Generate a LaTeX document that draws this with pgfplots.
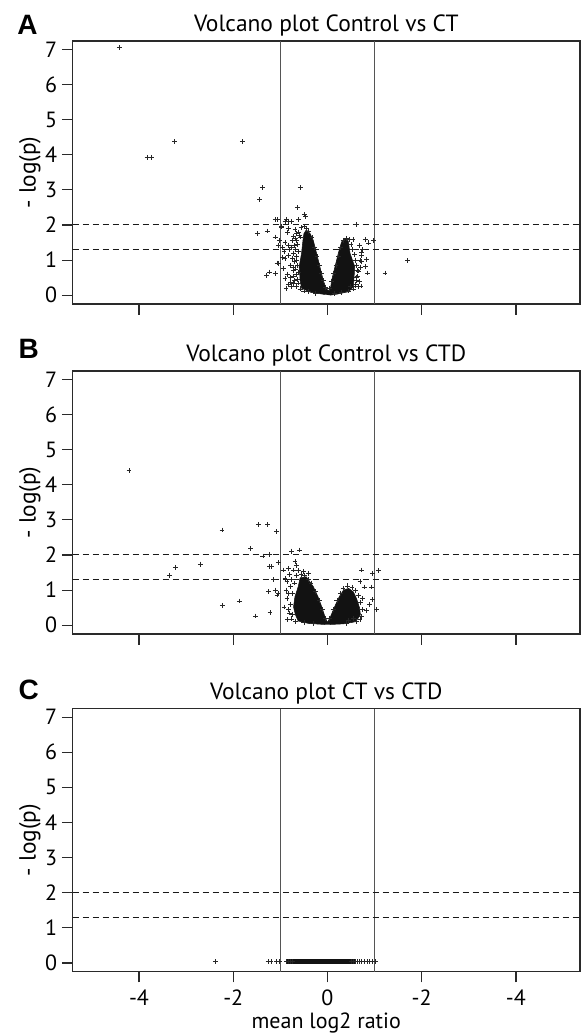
\documentclass[border=0pt]{standalone}
\usepackage{fontspec}
\setmainfont{PT Sans}
\newfontfamily\letterfont{Liberation Sans}
\usepackage{pgfplots}
\pgfplotsset{compat=1.18}
\definecolor{axisgray}{HTML}{2A2A2A}
\definecolor{cutgray}{HTML}{555555}

\pgfplotsset{
  volcano/.style={
    scale only axis, width=380.6pt, height=197.25pt,
    xmin=-5.41, xmax=5.36, ymin=-0.25, ymax=7.24,
    axis line style={axisgray, line width=0.9pt},
    xtick={-4,-2,0,2,4}, ytick={0,1,...,7},
    tick pos=left, tick align=outside,
    major tick length=8pt,
    tick style={axisgray, line width=0.9pt},
    /pgf/number format/assume math mode=true,
    xticklabel style={yshift=-2pt},
    title style={at={(0.5,1)}, anchor=base, yshift=0.75pt,
      font=\fontsize{17.6}{20}\selectfont},
    ylabel={- log(p)},
    ylabel style={at={(rel axis cs:-0.0729,0.5)}, anchor=base,
      font=\fontsize{17.5}{20}\selectfont},
  },
  pts/.style={only marks, mark=+, mark size=1.8pt, black!85,
    mark options={line width=0.55pt}},
  core/.style={fill=black!93, draw=black!93, line width=0.4pt, mark=none},
  cut/.style={cutgray, line width=0.95pt, mark=none},
  thr/.style={black!90, line width=0.75pt, dash pattern=on 5pt off 2.5pt, mark=none},
}

\begin{document}
\begin{tikzpicture}[font=\fontsize{16.5}{19}\selectfont]
\path[use as bounding box] (0,0) rectangle (436.5pt,774.75pt);

% ---- A: Control vs CT
\begin{axis}[volcano, at={(54.4pt,546.75pt)}, anchor=south west,
  title={Volcano plot Control vs CT}, xticklabels={}]
\addplot[cut] coordinates {(-1,-0.25) (-1,7.24)};
\addplot[cut] coordinates {(1,-0.25) (1,7.24)};
\addplot[thr] coordinates {(-5.41,2) (5.36,2)};
\addplot[thr] coordinates {(-5.41,1.3) (5.36,1.3)};
\addplot[core] coordinates {(-0.05,0.02) (-0.35,0.08) (-0.55,0.2) (-0.58,0.43)
  (-0.6,0.81) (-0.55,1.19) (-0.52,1.56) (-0.5,1.75) (-0.45,1.86) (-0.37,1.76)
  (-0.3,1.56) (-0.23,1.19) (-0.16,0.81) (-0.09,0.43) (-0.03,0.2) (0.02,0.12)
  (0.07,0.24) (0.09,0.43) (0.16,0.81) (0.23,1.19) (0.3,1.52) (0.37,1.6)
  (0.44,1.55) (0.48,1.19) (0.58,0.81) (0.56,0.43) (0.55,0.24) (0.45,0.1)
  (0.2,0.03) (0.05,0.0)};
\addplot[pts] table {
x y
-4.42 7.05
-3.83 3.93
-3.74 3.93
-3.24 4.37
-1.81 4.37
-1.38 3.07
-1.44 2.72
-0.58 3.07
-0.64 2.50
-0.49 2.30
-0.47 2.24
-0.61 2.15
-1.11 2.15
-1.06 2.15
-0.90 2.10
-0.76 2.10
-0.82 2.11
-0.88 2.16
-0.98 1.97
-0.97 1.94
-0.83 1.89
-0.69 1.87
-1.27 1.83
-1.49 1.76
-1.11 1.66
-1.01 1.56
-0.90 1.51
-0.83 1.42
-0.76 1.37
-1.04 1.42
-0.96 1.35
-0.65 1.75
-0.58 1.66
-0.90 1.04
-0.83 1.14
-0.72 1.18
-0.95 1.07
-1.07 0.92
-1.04 0.90
-0.94 0.76
-0.79 0.85
-0.65 0.99
-1.29 0.57
-1.23 0.66
-1.11 0.62
-0.90 0.47
-0.79 0.38
-0.72 0.33
-0.65 0.24
-0.76 0.24
-0.72 0.71
-0.62 0.66
-0.85 0.60
-0.80 1.30
-0.75 1.55
-0.72 1.68
-0.78 0.50
-0.85 1.78
-0.92 1.25
-0.70 0.95
-0.74 1.05
-0.70 1.42
-0.68 1.62
-0.73 0.80
-0.70 0.42
-0.82 0.30
-0.88 0.20
-0.56 1.92
-0.50 1.95
-0.45 1.90
-0.40 1.82
-0.62 1.80
-0.60 1.70
-0.66 1.55
-0.63 1.45
-0.68 1.30
-0.62 1.25
-0.66 1.10
-0.64 0.85
-0.68 0.75
-0.66 0.60
-0.72 0.55
-0.64 0.45
-0.62 0.35
-0.58 0.18
-0.50 0.12
-0.40 0.10
-0.25 0.06
-0.33 1.65
-0.27 1.35
-0.22 1.10
-0.17 0.85
-0.12 0.62
-0.08 0.42
-0.04 0.22
0.04 0.20
0.08 0.40
0.13 0.62
0.18 0.85
0.24 1.12
0.28 1.35
0.33 1.55
0.40 1.62
0.46 1.58
0.50 1.45
0.52 1.30
0.58 1.15
0.60 1.00
0.62 0.85
0.64 0.70
0.63 0.55
0.62 0.42
0.60 0.30
0.55 0.18
0.45 0.12
0.30 0.07
0.15 0.04
0.61 2.02
0.54 1.58
0.80 1.58
0.87 1.49
0.97 1.56
0.73 1.23
0.74 1.30
0.73 1.14
0.69 0.99
0.83 1.02
0.73 0.95
0.80 0.82
0.85 0.63
0.66 0.69
0.62 0.52
0.66 0.24
0.48 0.26
0.59 0.26
0.71 0.26
0.68 1.42
0.70 0.80
0.68 0.40
1.22 0.63
1.70 0.98
};
\end{axis}

% ---- B: Control vs CTD
\begin{axis}[volcano, at={(54.4pt,299.25pt)}, anchor=south west,
  title={Volcano plot Control vs CTD}, xticklabels={}]
\addplot[cut] coordinates {(-1,-0.25) (-1,7.24)};
\addplot[cut] coordinates {(1,-0.25) (1,7.24)};
\addplot[thr] coordinates {(-5.41,2) (5.36,2)};
\addplot[thr] coordinates {(-5.41,1.3) (5.36,1.3)};
\addplot[core] coordinates {(-0.05,0.02) (-0.4,0.05) (-0.62,0.12) (-0.68,0.3)
  (-0.72,0.52) (-0.69,0.81) (-0.62,1.1) (-0.58,1.35) (-0.45,1.38) (-0.3,1.1)
  (-0.2,0.81) (-0.12,0.52) (-0.05,0.23) (0.0,0.08) (0.06,0.23) (0.15,0.52)
  (0.25,0.81) (0.34,1.0) (0.45,1.05) (0.55,0.95) (0.62,0.75) (0.68,0.5)
  (0.7,0.3) (0.6,0.1) (0.35,0.04) (0.05,0.02)};
\addplot[pts] table {
x y
-4.21 4.40
-2.24 2.71
-1.47 2.86
-1.27 2.86
-1.08 2.67
-1.63 2.19
-1.37 1.97
-1.23 2.02
-2.70 1.74
-3.23 1.65
-3.35 1.42
-1.23 1.67
-1.18 1.67
-1.04 1.78
-1.15 1.30
-1.25 0.95
-1.11 1.00
-1.07 0.86
-1.05 0.91
-1.87 0.69
-2.23 0.57
-1.22 0.36
-1.52 0.26
-0.76 2.11
-0.60 2.14
-0.94 1.57
-0.83 1.62
-0.72 1.57
-0.62 1.55
-0.51 1.52
-0.40 1.48
-0.69 1.81
-0.65 1.71
-0.90 1.33
-0.86 1.24
-0.88 1.00
-0.86 0.76
-0.92 0.52
-0.85 0.16
-0.80 1.45
-0.78 1.10
-0.82 0.90
-0.80 0.35
-0.75 0.30
-0.78 0.60
-0.74 0.90
-0.70 1.20
-0.66 1.42
-0.56 1.45
-0.48 1.42
-0.40 1.30
-0.35 1.20
-0.25 0.95
-0.17 0.70
-0.10 0.45
-0.04 0.20
-0.68 0.10
-0.50 0.07
-0.30 0.05
-0.76 1.30
-0.82 0.45
-0.76 0.18
0.05 0.20
0.12 0.45
0.20 0.70
0.28 0.90
0.33 1.05
0.42 1.12
0.52 1.08
0.60 0.98
0.66 0.85
0.70 0.65
0.74 0.45
0.72 0.25
0.62 0.10
0.40 0.05
0.73 1.57
0.69 1.24
0.78 1.09
0.94 1.09
0.96 1.48
1.08 1.55
0.75 0.76
0.96 0.73
0.83 0.41
0.69 0.16
1.04 0.45
0.90 0.60
0.44 0.14
0.55 0.19
};
\end{axis}

% ---- C: CT vs CTD
\begin{axis}[volcano, at={(54.4pt,45.98pt)}, anchor=south west,
  title={Volcano plot CT vs CTD},
  xticklabels={-4,-2,0,-2,-4},
  xlabel={mean log2 ratio},
  xlabel style={at={(rel axis cs:0.5,0)}, anchor=base, yshift=-42.5pt}]
\addplot[cut] coordinates {(-1,-0.25) (-1,7.24)};
\addplot[cut] coordinates {(1,-0.25) (1,7.24)};
\addplot[thr] coordinates {(-5.41,2) (5.36,2)};
\addplot[thr] coordinates {(-5.41,1.3) (5.36,1.3)};
\addplot[core] coordinates {(-0.85,-0.02) (0.57,-0.02) (0.57,0.09) (-0.85,0.09)};
\addplot[pts] table {
x y
-2.38 0.04
-1.26 0.04
-1.20 0.04
-1.08 0.04
-1.02 0.04
-0.87 0.04
-0.83 0.04
-0.78 0.04
-0.74 0.04
0.50 0.04
0.55 0.04
0.60 0.04
0.63 0.04
0.67 0.04
0.72 0.04
0.78 0.04
0.84 0.04
0.90 0.04
0.96 0.04
1.02 0.04
};
\end{axis}

\node[anchor=base west, font=\letterfont\bfseries\fontsize{21}{23}\selectfont]
  at (9.5pt,749pt) {A};
\node[anchor=base west, font=\letterfont\bfseries\fontsize{21}{23}\selectfont]
  at (10.5pt,506pt) {B};
\node[anchor=base west, font=\letterfont\bfseries\fontsize{21}{23}\selectfont]
  at (10.5pt,249.75pt) {C};
\end{tikzpicture}
\end{document}
